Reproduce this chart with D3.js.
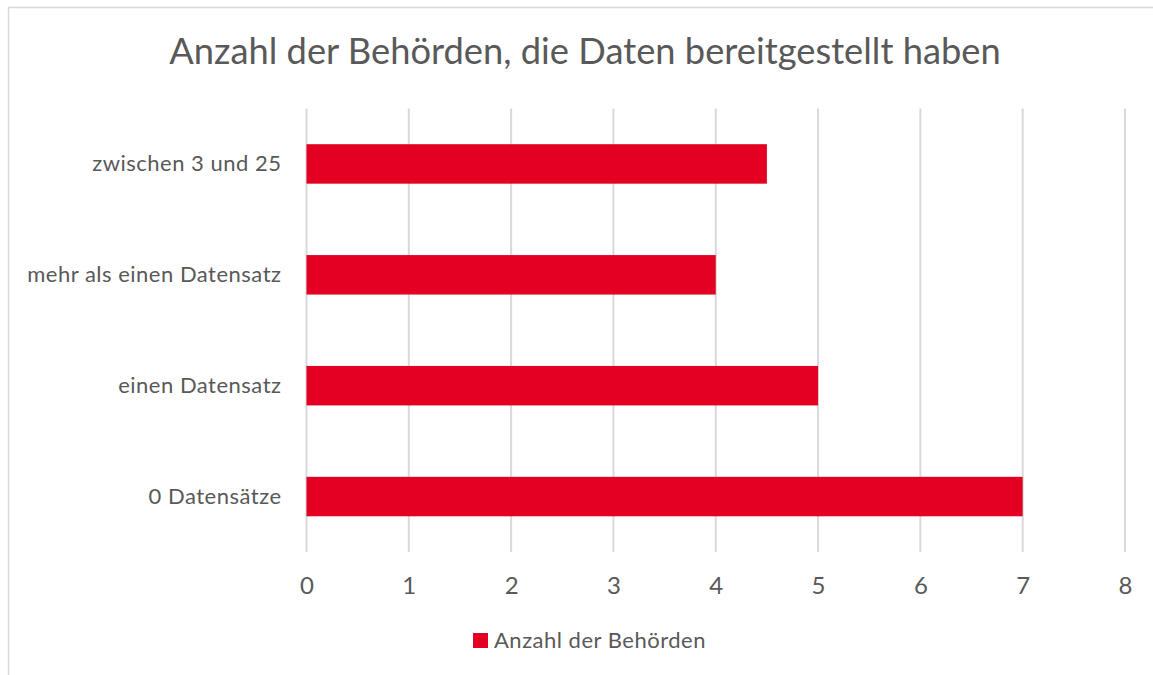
<!DOCTYPE html>
<html>
<head>
<meta charset="utf-8">
<script src="https://cdn.jsdelivr.net/npm/d3@7"></script>
<style>
  html, body { margin: 0; padding: 0; background: #ffffff; }
  svg { display: block; }
  text { font-family: Lato, "Open Sans", sans-serif; fill: #595959; }
</style>
</head>
<body>
<svg id="chart" width="1153" height="675"></svg>
<script>
const title = "Anzahl der Behörden, die Daten bereitgestellt haben";
const categories = ["zwischen 3 und 25", "mehr als einen Datensatz", "einen Datensatz", "0 Datensätze"];
const values = [4.5, 4, 5, 7];
const seriesName = "Anzahl der Behörden";
const xTicks = [0, 1, 2, 3, 4, 5, 6, 7, 8];
const barColor = "#e30022";

const svg = d3.select("#chart");

// chart border
svg.append("rect")
  .attr("x", 8.5).attr("y", 7.5)
  .attr("width", 1160).attr("height", 700)
  .attr("fill", "#ffffff")
  .attr("stroke", "#d9d9d9").attr("stroke-width", 1.5);

const plot = { left: 306.5, right: 1125, top: 108.5, bottom: 552 };

const x = d3.scaleLinear().domain([0, 8]).range([plot.left, plot.right]);
const y = d3.scaleBand().domain(categories).range([plot.top, plot.bottom]).paddingInner(0.644).paddingOuter(0.322);

// gridlines
svg.append("g").selectAll("line").data(xTicks).join("line")
  .attr("x1", d => x(d)).attr("x2", d => x(d))
  .attr("y1", plot.top).attr("y2", plot.bottom)
  .attr("stroke", "#d9d9d9").attr("stroke-width", 2);

// bars
svg.append("g").selectAll("rect").data(categories).join("rect")
  .attr("x", x(0))
  .attr("y", d => y(d))
  .attr("width", (d, i) => x(values[i]) - x(0))
  .attr("height", y.bandwidth())
  .attr("fill", barColor);

// x axis labels
const xAxis = d3.axisBottom(x).tickValues(xTicks).tickSize(0).tickPadding(0).tickFormat(d3.format("d"));
const gx = svg.append("g").attr("transform", `translate(0,${plot.bottom + 42})`).call(xAxis);
gx.select(".domain").remove();
gx.selectAll("text").attr("font-size", 24).attr("fill", "#595959")
  .style("font-family", "Lato, 'Open Sans', sans-serif").attr("dy", "0");

// y axis labels
const yAxis = d3.axisLeft(y).tickSize(0).tickPadding(0);
const gy = svg.append("g").attr("transform", `translate(${plot.left - 25},0)`).call(yAxis);
gy.select(".domain").remove();
gy.selectAll("text").attr("font-size", 22).attr("fill", "#595959")
  .style("letter-spacing", "0.5px")
  .style("font-family", "Lato, 'Open Sans', sans-serif");

// title
svg.append("text")
  .attr("x", 585).attr("y", 64)
  .attr("text-anchor", "middle")
  .attr("font-size", 36.3)
  .text(title);

// legend
const lg = svg.append("g");
lg.append("rect").attr("x", 473).attr("y", 633).attr("width", 15).attr("height", 15).attr("fill", barColor);
lg.append("text").attr("x", 494).attr("y", 648).attr("font-size", 22)
  .style("letter-spacing", "0.5px").text(seriesName);
</script>
</body>
</html>
